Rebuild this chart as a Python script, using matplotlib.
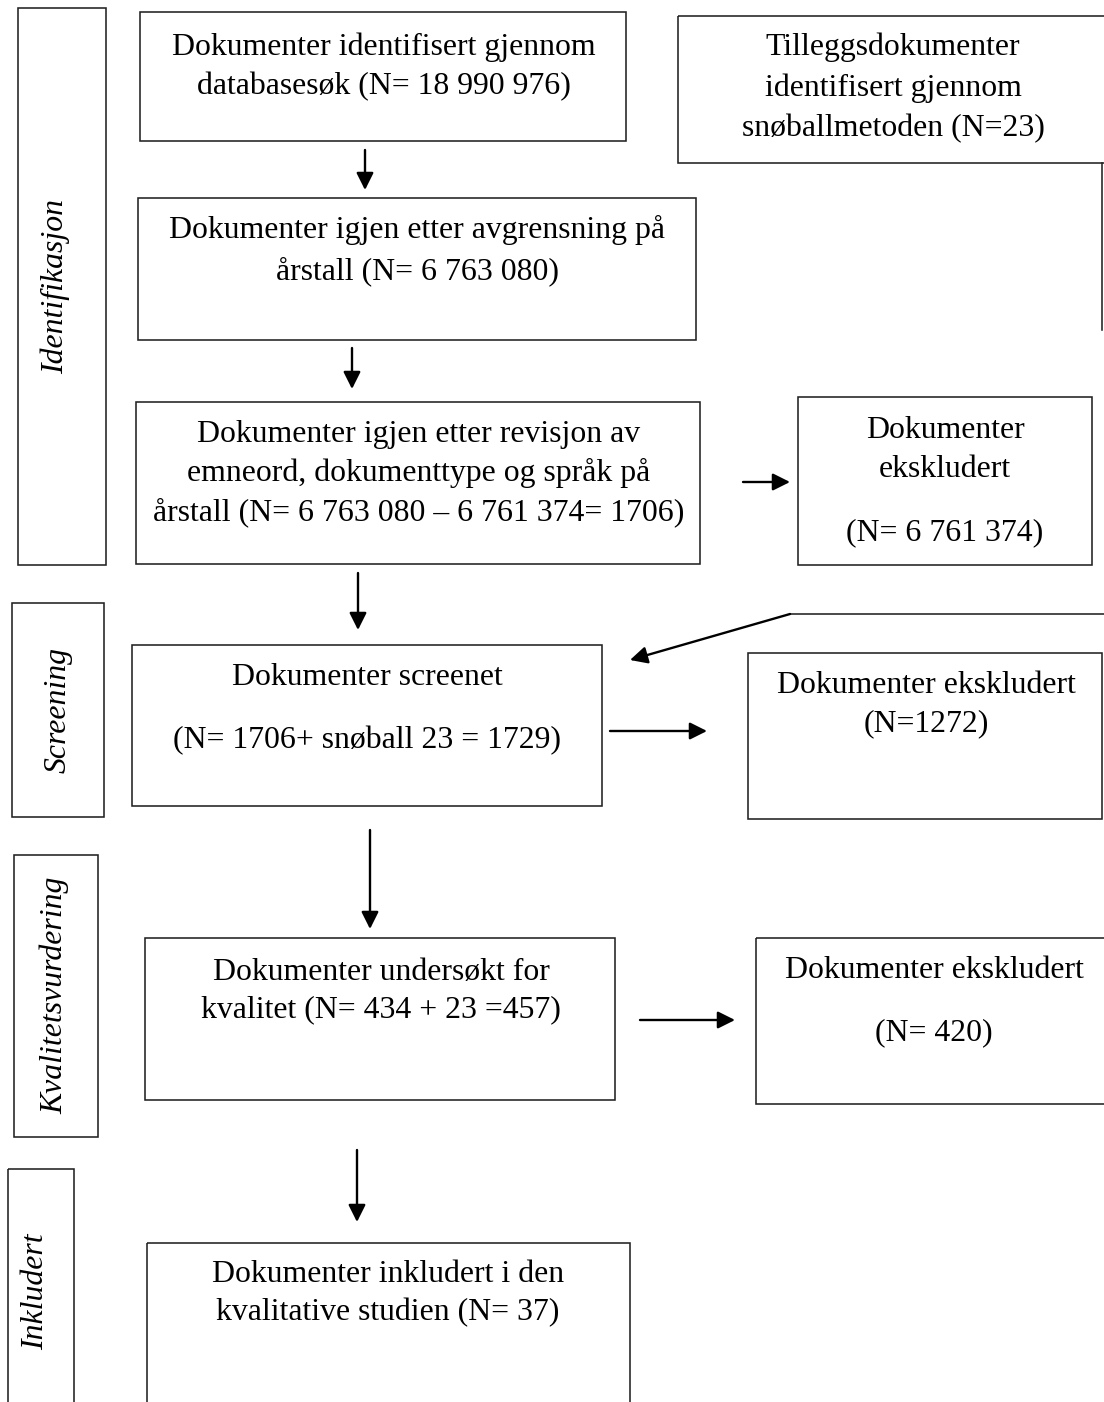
import matplotlib
matplotlib.use("Agg")
import matplotlib.pyplot as plt
from matplotlib.patches import Rectangle

# ---------------- data ----------------
stages = ["Identifikasjon", "Screening", "Kvalitetsvurdering", "Inkludert"]

n_database = 18990976
n_snowball = 23
n_after_year = 6763080
n_excluded_revision = 6761374
n_after_revision = 1706
n_screened = 1729
n_excluded_screening = 1272
n_quality_base = 434
n_quality = 457
n_excluded_quality = 420
n_included = 37


def fmt(n):
    return f"{n:,}".replace(",", " ")


box_texts = {
    "database": ["Dokumenter identifisert gjennom",
                 f"databasesøk (N= {fmt(n_database)})"],
    "snowball": ["Tilleggsdokumenter", "identifisert gjennom",
                 f"snøballmetoden (N={n_snowball})"],
    "year": ["Dokumenter igjen etter avgrensning på",
             f"årstall (N= {fmt(n_after_year)})"],
    "revision": ["Dokumenter igjen etter revisjon av",
                 "emneord, dokumenttype og språk på",
                 f"årstall (N= {fmt(n_after_year)} – {fmt(n_excluded_revision)}= {n_after_revision})"],
    "excl1": ["Dokumenter", "ekskludert", f"(N= {fmt(n_excluded_revision)})"],
    "screened": ["Dokumenter screenet",
                 f"(N= {n_after_revision}+ snøball {n_snowball} = {n_screened})"],
    "excl2": ["Dokumenter ekskludert", f"(N={n_excluded_screening})"],
    "quality": ["Dokumenter undersøkt for",
                f"kvalitet (N= {n_quality_base} + {n_snowball} ={n_quality})"],
    "excl3": ["Dokumenter ekskludert", f"(N= {n_excluded_quality})"],
    "included": ["Dokumenter inkludert i den",
                 f"kvalitative studien (N= {n_included})"],
}

# ---------------- layout (pixel space) ----------------
# box: (x0, y0, x1, y1), text centre x, baselines
layout = {
    "database": ((140, 12, 626, 141), 384, [55, 94]),
    "snowball": ((678, 16, 1120, 163), 893, [55, 96, 136]),
    "year": ((138, 198, 696, 340), 417, [238, 279]),
    "revision": ((136, 402, 700, 564), 419, [442, 481, 520]),
    "excl1": ((798, 397, 1092, 565), 945, [438, 477, 540]),
    "screened": ((132, 645, 602, 806), 367, [685, 748]),
    "excl2": ((748, 653, 1102, 819), 926, [693, 731]),
    "quality": ((145, 938, 615, 1100), 381, [980, 1017]),
    "excl3": ((756, 938, 1120, 1104), 934, [978, 1040]),
    "included": ((147, 1243, 630, 1420), 388, [1282, 1320]),
}

stage_layout = [
    ((18, 8, 106, 565), 55, 286),
    ((12, 603, 104, 817), 58, 710),
    ((14, 855, 98, 1137), 55, 995),
    ((8, 1169, 74, 1420), 36, 1292),
]

arrows = [
    ((365, 150), (365, 190)),
    ((352, 348), (352, 389)),
    ((743, 482), (790, 482)),
    ((358, 573), (358, 630)),
    ((610, 731), (707, 731)),
    ((370, 830), (370, 929)),
    ((640, 1020), (735, 1020)),
    ((357, 1150), (357, 1222)),
    ((790, 614), (630, 660)),
]

plain_lines = [
    ((1102, 1102), (163, 330)),
    ((790, 1120), (614, 614)),
]

FONT = "Liberation Serif"
FS = 22.9
EDGE = "#222222"

fig = plt.figure(figsize=(11.04, 14.02), dpi=100)
ax = fig.add_axes([0, 0, 1, 1])
ax.set_xlim(0, 1104)
ax.set_ylim(1402, 0)
ax.axis("off")

for key, lines in box_texts.items():
    (x0, y0, x1, y1), cx, baselines = layout[key]
    ax.add_patch(Rectangle((x0, y0), x1 - x0, y1 - y0, fill=False,
                           edgecolor=EDGE, linewidth=1.15))
    for line, by in zip(lines, baselines):
        ax.text(cx, by, line, ha="center", va="baseline",
                fontsize=FS, family=FONT, color="black")

for label, ((x0, y0, x1, y1), cx, cy) in zip(stages, stage_layout):
    ax.add_patch(Rectangle((x0, y0), x1 - x0, y1 - y0, fill=False,
                           edgecolor=EDGE, linewidth=1.15))
    ax.text(cx, cy, label, ha="center", va="center", rotation=90,
            fontsize=FS, family=FONT, style="italic", color="black")

for (xs, ys) in plain_lines:
    ax.plot(xs, ys, color=EDGE, linewidth=1.15)

for start, end in arrows:
    ax.annotate("", xy=end, xytext=start,
                arrowprops=dict(arrowstyle="-|>", color="black", lw=1.7,
                                mutation_scale=26, shrinkA=0, shrinkB=0))

fig.savefig("out.png", dpi=100)
